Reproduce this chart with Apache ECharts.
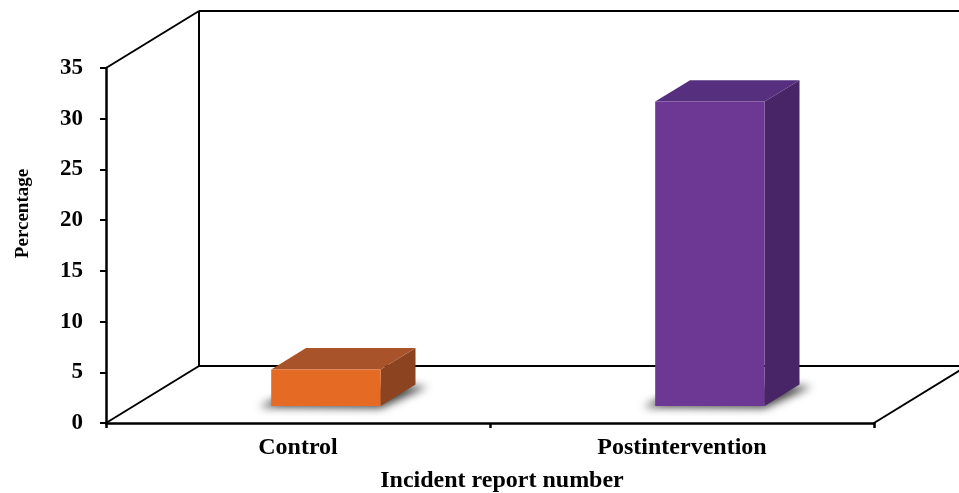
<!DOCTYPE html>
<html>
<head>
<meta charset="utf-8">
<title>Incident report number</title>
<script src="https://cdn.jsdelivr.net/npm/echarts@6/dist/echarts.min.js"></script>
<style>
  html, body { margin: 0; padding: 0; background: #ffffff; }
  #chart { width: 959px; height: 493px; }
</style>
</head>
<body>
<div id="chart"></div>
<script>
// ---- data ----
const categories = ['Control', 'Postintervention'];
const percentages = [3.6, 30];
const yAxisMin = 0;
const yAxisMax = 35;
const yAxisStep = 5;
const xAxisTitle = 'Incident report number';
const yAxisTitle = 'Percentage';

// ---- style ----
const FONT = "'Liberation Serif', 'Times New Roman', serif";
// face colours per bar: [front, top, side]
const faceColors = [
  ['#e56b24', '#a8532a', '#8c431f'],
  ['#6d3893', '#56307e', '#472566']
];
// oblique projection of the chart depth (full floor depth in pixels)
const DEPTH_X = 93;
const DEPTH_Y = -57;
const BAR_FRONT = 0.30;   // bar front plane as fraction of depth
const BAR_BACK = 0.675;   // bar back plane as fraction of depth
const BAR_WIDTH = 0.285;  // bar width as fraction of the category band
const SHADOW_SHIFT = 3000; // shadow shape is drawn off-canvas, only its blur is shifted back

const chart = echarts.init(document.getElementById('chart'), null, { renderer: 'canvas' });

function renderFrame(params, api) {
  const cs = params.coordSys;
  const l = cs.x, r = cs.x + cs.width, t = cs.y, b = cs.y + cs.height;
  const style = { stroke: '#000', lineWidth: 2, fill: null };
  const seg = (x1, y1, x2, y2) => ({
    type: 'line', shape: { x1, y1, x2, y2 }, style
  });
  return {
    type: 'group',
    children: [
      seg(l, t, l + DEPTH_X, t + DEPTH_Y),               // side wall top edge
      seg(l, b, l + DEPTH_X, b + DEPTH_Y),               // floor left edge
      seg(r, b, r + DEPTH_X, b + DEPTH_Y),               // floor right edge
      seg(l + DEPTH_X, t + DEPTH_Y, l + DEPTH_X, b + DEPTH_Y), // back wall left
      seg(l + DEPTH_X, t + DEPTH_Y, r + DEPTH_X, t + DEPTH_Y), // back wall top
      seg(l + DEPTH_X, b + DEPTH_Y, r + DEPTH_X, b + DEPTH_Y)  // back wall bottom
    ]
  };
}

function renderBar(params, api) {
  const idx = api.value(0);
  const val = api.value(1);
  const base = api.coord([idx, 0]);
  const top = api.coord([idx, val]);
  const band = api.size([1, 0])[0];
  const w = band * BAR_WIDTH;
  const fx = DEPTH_X * BAR_FRONT, fy = DEPTH_Y * BAR_FRONT;
  const dx = DEPTH_X * (BAR_BACK - BAR_FRONT), dy = DEPTH_Y * (BAR_BACK - BAR_FRONT);
  const x0 = base[0] - w / 2 + fx, x1 = x0 + w;
  const yb = base[1] + fy, yt = top[1] + fy;
  const c = faceColors[idx % faceColors.length];
  const pad = 12;
  const S = SHADOW_SHIFT;
  return {
    type: 'group',
    children: [
      {
        type: 'polygon',
        shape: { points: [
          [x0 - pad - S, yb + 1], [x1 - S, yb + 2], [x1 + dx + pad - S, yb + dy + 2], [x0 + dx - S, yb + dy]
        ] },
        style: {
          fill: '#000',
          shadowBlur: 9,
          shadowOffsetX: S,
          shadowColor: 'rgba(0,0,0,0.75)'
        }
      },
      {
        type: 'polygon',
        shape: { points: [[x1, yt], [x1 + dx, yt + dy], [x1 + dx, yb + dy], [x1, yb]] },
        style: { fill: c[2] }
      },
      {
        type: 'polygon',
        shape: { points: [[x0, yt], [x1, yt], [x1 + dx, yt + dy], [x0 + dx, yt + dy]] },
        style: { fill: c[1] }
      },
      {
        type: 'rect',
        shape: { x: x0, y: yt, width: w, height: yb - yt },
        style: { fill: c[0] }
      }
    ]
  };
}

const option = {
  backgroundColor: '#ffffff',
  animation: false,
  grid: {
    left: 106, right: 85, top: 68, bottom: 70,
    containLabel: false,
    outerBoundsMode: 'none'
  },
  xAxis: {
    type: 'category',
    data: categories,
    boundaryGap: true,
    axisLine: { show: true, lineStyle: { color: '#000', width: 2.5 } },
    axisTick: { show: true, alignWithLabel: false, length: 5, lineStyle: { color: '#000', width: 2.5 } },
    axisLabel: {
      margin: 13,
      color: '#000',
      fontFamily: FONT,
      fontWeight: 'bold',
      fontSize: 24
    },
    splitLine: { show: false },
    name: xAxisTitle,
    nameLocation: 'middle',
    nameGap: 46,
    nameTextStyle: {
      color: '#000',
      fontFamily: FONT,
      fontWeight: 'bold',
      fontSize: 24,
      padding: [0, 0, 0, 24]
    }
  },
  yAxis: {
    type: 'value',
    min: yAxisMin,
    max: yAxisMax,
    interval: yAxisStep,
    axisLine: { show: true, lineStyle: { color: '#000', width: 2.5 } },
    axisTick: { show: true, length: 6, lineStyle: { color: '#000', width: 2 } },
    axisLabel: {
      margin: 23,
      color: '#000',
      fontFamily: FONT,
      fontWeight: 'bold',
      fontSize: 23
    },
    splitLine: { show: false },
    name: yAxisTitle,
    nameLocation: 'middle',
    nameGap: 73,
    nameTextStyle: {
      color: '#000',
      fontFamily: FONT,
      fontWeight: 'bold',
      fontSize: 19,
      padding: [0, 0, 0, 64]
    }
  },
  series: [
    {
      name: 'frame',
      type: 'custom',
      z: 1,
      silent: true,
      clip: false,
      renderItem: renderFrame,
      data: [[0, 0]]
    },
    {
      name: yAxisTitle,
      type: 'custom',
      z: 3,
      clip: false,
      renderItem: renderBar,
      encode: { x: 0, y: 1 },
      data: percentages.map((v, i) => [i, v])
    }
  ]
};

chart.setOption(option);
</script>
</body>
</html>
